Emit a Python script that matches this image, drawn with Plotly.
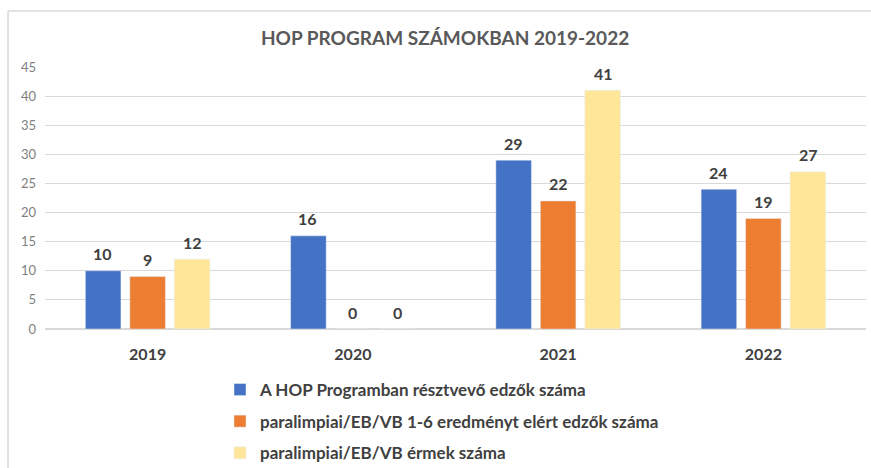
import plotly.graph_objects as go

years = ["2019", "2020", "2021", "2022"]
series_names = [
    "A HOP Programban résztvevő edzők száma",
    "paralimpiai/EB/VB 1-6 eredményt elért edzők száma",
    "paralimpiai/EB/VB érmek száma",
]
coaches = [10, 16, 29, 24]
results = [9, 0, 22, 19]
medals = [12, 0, 41, 27]
colors = ["#4472C4", "#ED7D31", "#FFE699"]
y_ticks = [0, 5, 10, 15, 20, 25, 30, 35, 40, 45]

FONT = "Lato"
fig = go.Figure()
annotations = []
for i, (name, vals) in enumerate(zip(series_names, [coaches, results, medals])):
    fig.add_trace(go.Bar(
        x=years, y=vals, name=name, marker_color=colors[i],
        legendgroup=str(i), hoverinfo="x+y+name",
    ))
    for j, v in enumerate(vals):
        # x given as category index (numeric-looking names would be read as indices)
        annotations.append(dict(
            x=j, y=v, xref="x", yref="y", text=f"<b>{v}</b>", showarrow=False,
            xshift=(i - 1) * 45, yshift=17, yanchor="middle",
            font=dict(family=FONT, size=16, color="#404040"),
        ))

fig.update_layout(
    width=871, height=468,
    margin=dict(l=45, r=5, t=67, b=139, autoexpand=False),
    paper_bgcolor="white", plot_bgcolor="white",
    barmode="group", bargap=0.35, bargroupgap=0.2,
    title=dict(text="<b>HOP PROGRAM SZÁMOKBAN 2019-2022</b>", x=0.511, xanchor="center",
               y=1 - 38 / 468, yanchor="middle",
               font=dict(family=FONT, size=19, color="#595959")),
    font=dict(family=FONT),
    showlegend=True,
    legend=dict(orientation="v", x=220 / 871, xref="container", xanchor="left",
                y=1 - 372 / 468, yref="container", yanchor="top",
                traceorder="grouped", tracegroupgap=6.5,
                font=dict(family=FONT, size=17, color="#404040", weight="bold"),
                itemwidth=30),
    annotations=annotations,
    xaxis=dict(type="category", categoryorder="array", categoryarray=years,
               showline=False, ticks="", ticklabelstandoff=14,
               tickfont=dict(family=FONT, size=16, color="#404040", weight="bold")),
    yaxis=dict(range=[0, 45], tickvals=y_ticks, showgrid=True, gridcolor="#D9D9D9",
               gridwidth=1, zeroline=True, zerolinecolor="#D9D9D9", ticks="",
               tickfont=dict(family=FONT, size=13, color="#7F7F7F"), ticklabelstandoff=8),
    shapes=[
        dict(type="line", xref="paper", yref="paper", x0=-0.045, x1=1.01,
             y0=1 + 56 / 262, y1=1 + 56 / 262, line=dict(color="#D9D9D9", width=1.5)),
        dict(type="line", xref="paper", yref="paper", x0=-0.045, x1=-0.045,
             y0=1 + 56 / 262, y1=-0.6, line=dict(color="#D9D9D9", width=1.5)),
    ],
)

fig.write_html("out.html")
